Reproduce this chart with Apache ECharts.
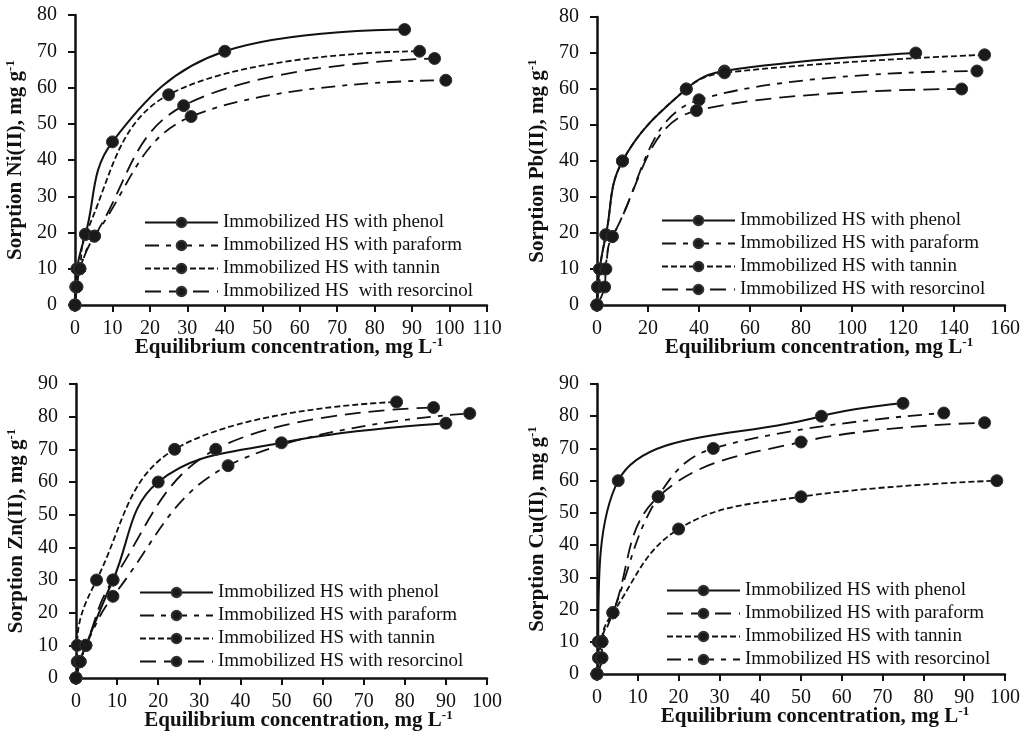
<!DOCTYPE html>
<html>
<head>
<meta charset="utf-8">
<script src="https://cdn.jsdelivr.net/npm/echarts@6/dist/echarts.min.js"></script>
<style>html,body{margin:0;padding:0;background:#fff}#c{width:1030px;height:738px}</style>
</head>
<body>
<div id="c"></div>
<script>
// ---------- data (x = equilibrium concentration, y = sorption) ----------
const legendNames = ['Immobilized HS with phenol', 'Immobilized HS with paraform', 'Immobilized HS with tannin', 'Immobilized HS with resorcinol'];
const legendNamesNi = ['Immobilized HS with phenol', 'Immobilized HS with paraform', 'Immobilized HS with tannin', 'Immobilized HS  with resorcinol'];

const niPhenol     = [[0,0],[0.2,5],[0.5,10],[2.8,19.5],[10,45],[40,70],[88,76]];
const niParaform   = [[0,0],[0.5,5],[1.3,10],[5.2,19],[31,52],[99,62]];
const niTannin     = [[0,0],[0.3,5],[1.3,10],[2.8,19.5],[25,58],[92,70]];
const niResorcinol = [[0,0],[0.5,5],[1.3,10],[5.2,19],[29,55],[96,68]];

const pbPhenol     = [[0,0],[0.3,5],[1,10],[3.5,19.5],[10,40],[35,60],[50,65],[125,70]];
const pbParaform   = [[0,0],[0.3,5],[3,10],[6,19],[40,57],[149,65]];
const pbTannin     = [[0,0],[0.3,5],[1,10],[3.5,19.5],[10,40],[35,60],[50,64.5],[152,69.5]];
const pbResorcinol = [[0,0],[3,5],[3.5,10],[6,19],[39,54],[143,60]];

const znPhenol     = [[0,0],[1,5],[2.4,10],[9,30],[20,60],[50,72],[90,78]];
const znParaform   = [[0,0],[1,5],[2.4,10],[9,25],[37,65],[95.8,81]];
const znTannin     = [[0,0],[0.3,5],[0.3,10],[5,30],[24,70],[78,84.5]];
const znResorcinol = [[0,0],[1,5],[2.4,10],[9,30],[34,70],[87,82.8]];

const cuPhenol     = [[0,0],[0.4,5],[0.3,10],[5.2,60],[55,80],[75,84]];
const cuParaform   = [[0,0],[0.4,5],[1.2,10],[3.9,19],[15,55],[50,72],[95,78]];
const cuTannin     = [[0,0],[1.2,5],[1.2,10],[3.9,19],[20,45],[50,55],[98,60]];
const cuResorcinol = [[0,0],[1.2,5],[1.2,10],[3.9,19],[15,55],[28.5,70],[85,81]];

const xMax = [110, 160, 100, 100];
const xStep = [10, 20, 10, 10];
const yMax = [80, 80, 90, 90];
const yTitles = ['Sorption Ni(II), mg g', 'Sorption Pb(II), mg g', 'Sorption Zn(II), mg g', 'Sorption Cu(II), mg g'];
const xTitle = 'Equilibrium concentration, mg L';

// ---------- styling ----------
const FONT = 'Liberation Serif';
const INK = '#111';
const grids = [
  {left: 75, top: 15, width: 412, height: 290},
  {left: 597, top: 17, width: 408, height: 288},
  {left: 76, top: 384, width: 411, height: 294},
  {left: 597, top: 384, width: 408, height: 290}
];
const legendPos = [
  {left: 139, top: 208}, {left: 656, top: 206}, {left: 134, top: 578}, {left: 661, top: 576}
];
const xNamePad = [16, 36, 34, 28];
const DASH = {
  solid: 'solid',
  dashDot: [14, 7, 5, 7],
  short: [6, 3],
  long: [16, 8]
};
const nameRich = {
  a: {fontSize: 21, fontWeight: 'bold', fontFamily: FONT, color: INK, lineHeight: 23},
  s: {fontSize: 13, fontWeight: 'bold', fontFamily: FONT, color: INK, lineHeight: 13, verticalAlign: 'top'}
};

const panels = [
  {key: 'Ni', names: legendNamesNi, data: [niPhenol, niParaform, niTannin, niResorcinol], dash: [DASH.solid, DASH.dashDot, DASH.short, DASH.long]},
  {key: 'Pb', names: legendNames, data: [pbPhenol, pbParaform, pbTannin, pbResorcinol], dash: [DASH.solid, DASH.dashDot, DASH.short, DASH.long]},
  {key: 'Zn', names: legendNames, data: [znPhenol, znParaform, znTannin, znResorcinol], dash: [DASH.solid, DASH.dashDot, DASH.short, DASH.long]},
  {key: 'Cu', names: legendNames, data: [cuPhenol, cuParaform, cuTannin, cuResorcinol], dash: [DASH.solid, DASH.long, DASH.short, DASH.dashDot]}
];

const xAxes = [], yAxes = [], series = [], legends = [];
panels.forEach((p, i) => {
  xAxes.push({
    type: 'value', gridIndex: i, min: 0, max: xMax[i], interval: xStep[i],
    axisLine: {show: true, onZero: false, lineStyle: {color: INK, width: 2.5}},
    axisTick: {show: true, length: 7, lineStyle: {color: INK, width: 2}},
    axisLabel: {fontSize: 20, fontFamily: FONT, color: INK, margin: 14},
    splitLine: {show: false},
    name: '{a|' + xTitle + '}{s|-1}', nameLocation: 'middle', nameGap: 31, nameMoveOverlap: false,
    nameTextStyle: {rich: nameRich, padding: [0, 0, 0, xNamePad[i]]}
  });
  yAxes.push({
    type: 'value', gridIndex: i, min: 0, max: yMax[i], interval: 10,
    axisLine: {show: true, onZero: false, lineStyle: {color: INK, width: 2.5}},
    axisTick: {show: true, length: 7, lineStyle: {color: INK, width: 2}},
    axisLabel: {fontSize: 20, fontFamily: FONT, color: INK, margin: 18},
    splitLine: {show: false},
    name: '{a|' + yTitles[i] + '}{s|-1}', nameLocation: 'middle', nameGap: 48, nameRotate: 90, nameMoveOverlap: false,
    nameTextStyle: {rich: nameRich}
  });
  const ids = [];
  p.data.forEach((d, k) => {
    const id = p.key + '|' + p.names[k];
    ids.push(id);
    series.push({
      type: 'line', name: id, xAxisIndex: i, yAxisIndex: i, data: d,
      smooth: 0.4, symbol: 'circle', symbolSize: 12,
      lineStyle: {color: INK, width: k === 0 ? 2 : 1.8, type: p.dash[k]},
      itemStyle: {color: '#1a1a1a', borderColor: '#333', borderWidth: 1},
      emphasis: {disabled: true}, animation: false
    });
  });
  legends.push(Object.assign({
    data: ids, orient: 'vertical', itemWidth: 73, itemHeight: 12, itemGap: 4,
    selectedMode: false,
    formatter: n => n.split('|')[1],
    textStyle: {fontSize: 19, fontFamily: FONT, color: INK, lineHeight: 19}
  }, legendPos[i]));
});

const chart = echarts.init(document.getElementById('c'), null, {renderer: 'canvas'});
chart.setOption({
  backgroundColor: '#fff', animation: false,
  grid: grids, xAxis: xAxes, yAxis: yAxes, legend: legends, series: series
});
</script>
</body>
</html>
